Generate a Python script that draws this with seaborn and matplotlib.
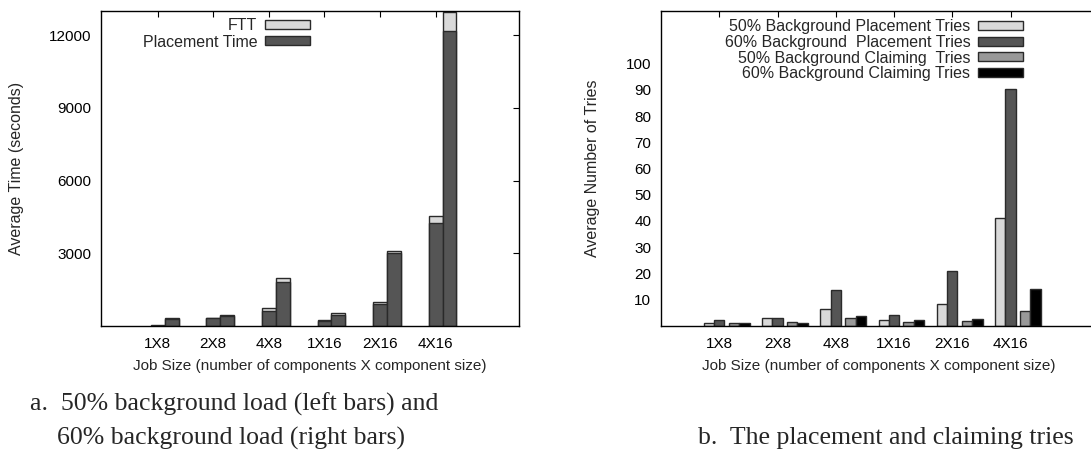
import numpy as np
import pandas as pd
import matplotlib
matplotlib.use("Agg")
import matplotlib.pyplot as plt
import seaborn as sns
from matplotlib.patches import Patch

job_sizes = ["1X8", "2X8", "4X8", "1X16", "2X16", "4X16"]

# (a) average times in seconds, 50% and 60% background load
placement_50 = [20, 320, 620, 220, 920, 4270]
ftt_50 = [20, 30, 115, 35, 80, 270]
placement_60 = [290, 415, 1800, 440, 3000, 12190]
ftt_60 = [30, 30, 175, 90, 100, 750]

# (b) average number of tries
placement_tries_50 = [1.1, 2.9, 6.5, 2.3, 8.2, 41.0]
placement_tries_60 = [2.3, 3.0, 13.9, 4.3, 21.0, 90.4]
claiming_tries_50 = [1.1, 1.5, 3.0, 1.5, 2.0, 5.7]
claiming_tries_60 = [1.3, 1.1, 3.7, 2.1, 2.6, 14.2]

time_ticks = [3000, 6000, 9000, 12000]
tries_ticks = [10, 20, 30, 40, 50, 60, 70, 80, 90, 100]

LIGHT = "#d9d9d9"
DARK = "#555555"
MID = "#999999"
BLACK = "#000000"
EDGE = "#2a2a2a"

sns.set_theme(style="white")
plt.rcParams["font.family"] = ["Liberation Sans", "DejaVu Sans"]
plt.rcParams["axes.edgecolor"] = "black"
plt.rcParams["axes.linewidth"] = 1.0

W, H = 1091, 458
fig = plt.figure(figsize=(W / 100, H / 100), dpi=100)

def fx(px):
    return px / W

def fy(py):
    return 1 - py / H

ax1 = fig.add_axes([fx(101), fy(326), fx(519 - 101), (326 - 11) / H])
ax2 = fig.add_axes([fx(661), fy(326), fx(1098 - 661), (326 - 11) / H])

idx = np.arange(len(job_sizes))

# ---- (a) stacked time bars: placement time with FTT on top ----
time_df = pd.DataFrame({
    "pos": np.concatenate([idx + 0.125, idx + 0.125]),
    "load": ["50%"] * 6 + ["60%"] * 6,
    "placement": placement_50 + placement_60,
    "ftt": ftt_50 + ftt_60,
})
time_df["total"] = time_df["placement"] + time_df["ftt"]

bar_kw = dict(native_scale=True, dodge=True, errorbar=None, legend=False,
              edgecolor=EDGE, linewidth=1.0, saturation=1)
sns.barplot(data=time_df, x="pos", y="total", hue="load", width=0.5,
            palette=[LIGHT, LIGHT], ax=ax1, **bar_kw)
sns.barplot(data=time_df, x="pos", y="placement", hue="load", width=0.5,
            palette=[DARK, DARK], ax=ax1, **bar_kw)

ax1.set_xlim(-1.02, 6.5)
ax1.set_ylim(0, 13000)
ax1.set_xticks(idx, job_sizes)
ax1.set_yticks(time_ticks)
ax1.set_xlabel("")
ax1.set_ylabel("")

ax1.legend(handles=[Patch(facecolor=LIGHT, edgecolor=EDGE, label="FTT"),
                    Patch(facecolor=DARK, edgecolor=EDGE, label="Placement Time")],
           loc="upper right", bbox_to_anchor=(fx(310), fy(18)),
           bbox_transform=fig.transFigure, frameon=False, markerfirst=False,
           fontsize=11.5, handlelength=2.8, handleheight=0.5, handletextpad=0.5,
           labelspacing=0.1, borderpad=0, borderaxespad=0)

# ---- (b) placement and claiming tries ----
tries_place = pd.DataFrame({
    "pos": np.concatenate([idx - 0.0885, idx - 0.0885]),
    "load": ["50%"] * 6 + ["60%"] * 6,
    "tries": placement_tries_50 + placement_tries_60,
})
tries_claim = pd.DataFrame({
    "pos": np.concatenate([idx + 0.339, idx + 0.339]),
    "load": ["50%"] * 6 + ["60%"] * 6,
    "tries": claiming_tries_50 + claiming_tries_60,
})
sns.barplot(data=tries_place, x="pos", y="tries", hue="load", width=0.354,
            palette=[LIGHT, DARK], ax=ax2, **bar_kw)
sns.barplot(data=tries_claim, x="pos", y="tries", hue="load", width=0.36,
            palette=[MID, BLACK], ax=ax2, **bar_kw)

ax2.set_xlim(-1.0, 6.5)
ax2.set_ylim(0, 120)
ax2.set_xticks(idx, job_sizes)
ax2.set_yticks(tries_ticks)
ax2.set_xlabel("")
ax2.set_ylabel("")

ax2.legend(handles=[
    Patch(facecolor=LIGHT, edgecolor=EDGE, label="50% Background Placement Tries"),
    Patch(facecolor=DARK, edgecolor=EDGE, label="60% Background  Placement Tries"),
    Patch(facecolor=MID, edgecolor=EDGE, label="50% Background Claiming  Tries"),
    Patch(facecolor=BLACK, edgecolor=EDGE, label="60% Background Claiming Tries")],
    loc="upper right", bbox_to_anchor=(fx(1023), fy(19)),
    bbox_transform=fig.transFigure, frameon=False, markerfirst=False,
    fontsize=11.5, handlelength=2.8, handleheight=0.5, handletextpad=0.5,
    labelspacing=0.05, borderpad=0, borderaxespad=0)

for ax in (ax1, ax2):
    ax.tick_params(direction="in", top=True, right=True, length=4, width=0.8,
                   color="black", labelsize=11, labelcolor="black", pad=7)
    ax.tick_params(axis="x", pad=8)
    for s in ax.spines.values():
        s.set_visible(True)
        s.set_color("black")
        s.set_linewidth(1.0)

# axis titles
fig.text(fx(17), fy(168.5), "Average Time (seconds)", rotation=90,
         ha="center", va="center", fontsize=11.5)
fig.text(fx(593), fy(168.5), "Average Number of Tries", rotation=90,
         ha="center", va="center", fontsize=11.5)
fig.text(fx(310), fy(366), "Job Size (number of components X component size)",
         ha="center", va="center", fontsize=11)
fig.text(fx(879), fy(366), "Job Size (number of components X component size)",
         ha="center", va="center", fontsize=11)

# captions
serif = ["Liberation Serif", "DejaVu Serif"]
fig.text(fx(30), fy(404), "a.  50% background load (left bars) and",
         ha="left", va="center", fontsize=18.5, family=serif)
fig.text(fx(57), fy(438), "60% background load (right bars)",
         ha="left", va="center", fontsize=18.5, family=serif)
fig.text(fx(698), fy(438), "b.  The placement and claiming tries",
         ha="left", va="center", fontsize=18.5, family=serif)

fig.savefig("out.png", dpi=100)
